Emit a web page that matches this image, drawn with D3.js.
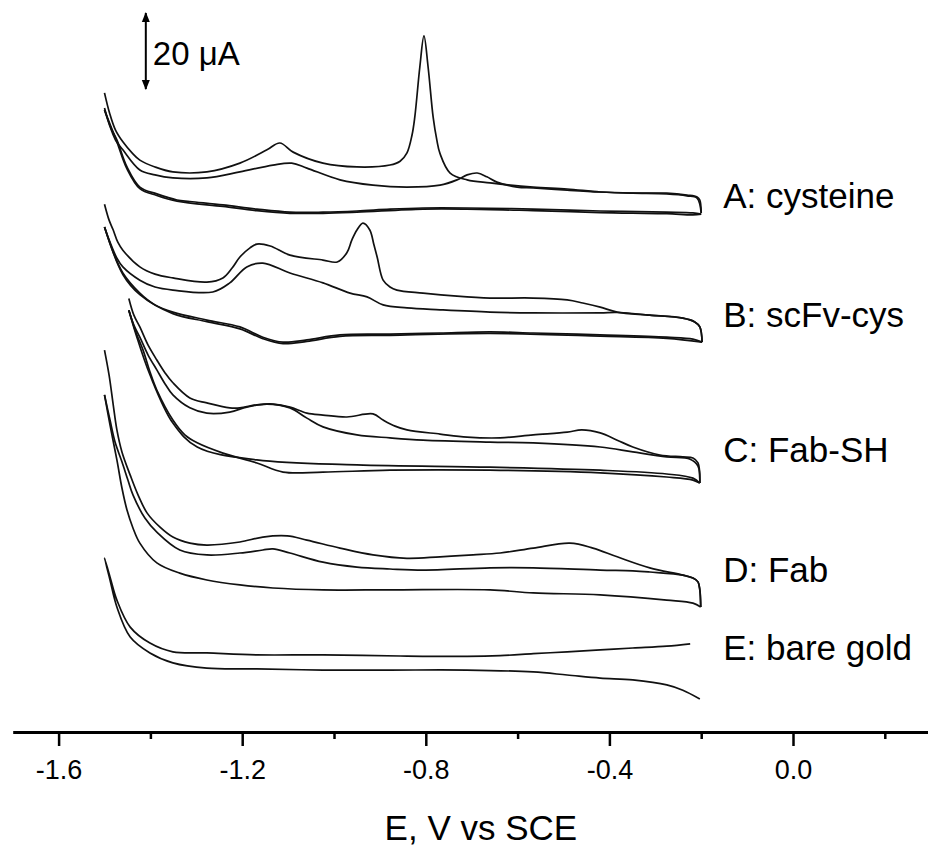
<!DOCTYPE html>
<html>
<head>
<meta charset="utf-8">
<script src="https://cdn.jsdelivr.net/npm/d3@7"></script>
<style>
  html, body { margin: 0; padding: 0; background: #fff; }
  svg { display: block; }
  text { font-family: "Liberation Sans", Arial, Helvetica, sans-serif; fill: #000; }
</style>
</head>
<body>
<svg id="chart" width="928" height="848"></svg>
<script>
// ---------------- data (E in V vs SCE, current in μA) ----------------
const majorTicks = [-1.6, -1.2, -0.8, -0.4, 0.0];
const minorTicks = [-1.4, -1.0, -0.6, -0.2, 0.2];
const xTitle = "E, V vs SCE";
const scaleBarLabel = "20 μA";
const scaleBarValue = 20; // μA
const sampleLabels = ["A: cysteine", "B: scFv-cys", "C: Fab-SH", "D: Fab", "E: bare gold"];
const sampleOffsets = [137, 104.5, 68.5, 37.5, 16.5]; // vertical stacking offsets, μA

const A_scan1 = [[-1.500,31.2],[-1.489,25.9],[-1.476,21.4],[-1.460,18.3],[-1.440,15.4],[-1.423,13.5],[-1.390,11.7],[-1.351,10.4],[-1.277,10.4],[-1.205,12.7],[-1.146,16.2],[-1.118,18.0],[-1.089,15.6],[-1.024,12.7],[-0.950,11.7],[-0.878,12.2],[-0.856,13.2],[-0.841,15.4],[-0.830,20.1],[-0.824,24.8],[-0.813,38.0],[-0.804,46.2],[-0.795,38.0],[-0.784,24.8],[-0.776,18.8],[-0.769,15.2],[-0.747,10.1],[-0.710,8.3],[-0.660,7.5],[-0.566,6.4],[-0.492,5.9],[-0.420,5.1],[-0.349,4.8],[-0.275,4.8],[-0.231,4.3],[-0.209,3.8],[-0.203,3.0],[-0.200,-0.4]];
const A_scan2 = [[-1.500,27.2],[-1.489,22.7],[-1.476,18.8],[-1.460,16.2],[-1.423,10.9],[-1.390,9.6],[-1.351,8.8],[-1.277,8.8],[-1.205,10.4],[-1.133,12.2],[-1.092,12.7],[-1.059,11.4],[-0.987,8.3],[-0.915,6.9],[-0.841,6.4],[-0.769,6.9],[-0.732,8.3],[-0.710,9.6],[-0.688,10.1],[-0.667,9.1],[-0.645,7.7],[-0.601,6.4],[-0.566,6.2],[-0.492,5.6],[-0.420,5.1],[-0.349,4.8],[-0.275,4.6],[-0.231,4.1],[-0.209,3.5],[-0.200,-0.4]];
const A_return1 = [[-1.500,26.7],[-1.486,22.0],[-1.473,18.8],[-1.451,11.7],[-1.423,6.4],[-1.386,4.6],[-1.342,3.0],[-1.314,2.6],[-1.242,1.7],[-1.168,0.6],[-1.096,-0.2],[-1.024,-0.2],[-0.950,0.1],[-0.878,0.6],[-0.806,0.9],[-0.710,0.9],[-0.566,0.6],[-0.420,0.1],[-0.275,-0.2],[-0.218,-0.4],[-0.200,-0.7]];
const A_return2 = [[-1.500,26.7],[-1.473,18.3],[-1.451,11.2],[-1.423,6.0],[-1.386,4.2],[-1.342,2.7],[-1.242,1.3],[-1.168,0.2],[-1.096,-0.5],[-1.024,-0.5],[-0.950,-0.2],[-0.806,0.6],[-0.710,0.6],[-0.566,0.2],[-0.420,-0.3],[-0.275,-0.6],[-0.218,-0.9],[-0.200,-0.7]];

const B_scan1 = [[-1.500,34.4],[-1.490,30.2],[-1.481,27.6],[-1.471,24.4],[-1.460,22.3],[-1.423,17.9],[-1.390,16.0],[-1.351,15.0],[-1.277,13.9],[-1.242,15.0],[-1.222,17.6],[-1.205,20.5],[-1.183,22.9],[-1.168,23.9],[-1.139,23.4],[-1.096,21.0],[-1.024,19.7],[-0.993,19.2],[-0.972,21.6],[-0.961,25.0],[-0.950,27.6],[-0.937,29.4],[-0.922,27.6],[-0.913,23.7],[-0.906,20.5],[-0.893,14.4],[-0.878,12.6],[-0.863,11.8],[-0.806,11.0],[-0.732,10.2],[-0.660,9.7],[-0.566,9.7],[-0.492,9.2],[-0.458,8.4],[-0.420,7.3],[-0.383,6.0],[-0.312,5.2],[-0.240,4.4],[-0.214,3.4],[-0.203,2.1],[-0.198,-1.9]];
const B_scan2 = [[-1.500,28.4],[-1.488,24.4],[-1.473,20.2],[-1.460,17.9],[-1.423,14.4],[-1.390,12.6],[-1.351,11.8],[-1.264,11.3],[-1.227,13.7],[-1.190,17.9],[-1.155,18.9],[-1.096,16.3],[-1.024,13.7],[-0.965,11.0],[-0.928,10.0],[-0.893,7.9],[-0.841,7.1],[-0.769,6.6],[-0.660,6.0],[-0.566,5.8],[-0.420,5.8],[-0.383,5.9],[-0.312,5.2],[-0.240,4.4],[-0.214,3.4],[-0.203,2.1],[-0.198,-1.9]];
const B_return1 = [[-1.500,28.4],[-1.481,21.8],[-1.460,16.3],[-1.423,11.0],[-1.390,7.9],[-1.351,6.0],[-1.277,3.9],[-1.205,2.1],[-1.155,-0.6],[-1.111,-1.9],[-1.059,-1.3],[-0.987,0.0],[-0.878,0.2],[-0.769,0.5],[-0.660,0.8],[-0.566,0.5],[-0.420,0.0],[-0.275,-0.6],[-0.218,-1.1],[-0.198,-1.9]];
const B_return2 = [[-1.500,28.4],[-1.460,15.9],[-1.423,10.6],[-1.351,5.6],[-1.277,3.5],[-1.205,1.6],[-1.155,-1.0],[-1.111,-2.3],[-1.059,-1.7],[-0.987,-0.4],[-0.878,-0.1],[-0.660,0.4],[-0.420,-0.3],[-0.275,-0.9],[-0.198,-1.9]];

const C_scan1 = [[-1.447,45.6],[-1.436,41.2],[-1.423,38.1],[-1.405,33.3],[-1.386,29.4],[-1.368,26.0],[-1.351,23.4],[-1.314,19.4],[-1.277,18.1],[-1.227,16.8],[-1.205,16.8],[-1.168,17.6],[-1.133,17.8],[-1.096,17.0],[-1.059,15.4],[-1.024,14.9],[-0.972,14.4],[-0.915,15.2],[-0.893,13.6],[-0.867,12.0],[-0.841,11.0],[-0.769,9.9],[-0.710,9.1],[-0.638,8.9],[-0.566,9.7],[-0.492,10.4],[-0.460,11.0],[-0.420,10.2],[-0.383,8.3],[-0.349,6.5],[-0.290,4.4],[-0.240,3.9],[-0.218,3.6],[-0.207,2.3],[-0.203,-3.0]];
const C_scan2 = [[-1.447,42.5],[-1.436,38.6],[-1.423,35.4],[-1.405,30.7],[-1.386,26.8],[-1.368,23.1],[-1.351,20.2],[-1.314,16.8],[-1.277,15.4],[-1.227,15.7],[-1.190,17.0],[-1.146,17.8],[-1.096,16.8],[-1.059,14.1],[-1.024,11.8],[-0.950,9.7],[-0.878,8.9],[-0.806,8.3],[-0.660,7.8],[-0.566,7.6],[-0.420,6.5],[-0.349,5.2],[-0.275,3.9],[-0.224,3.3],[-0.207,1.5],[-0.203,-3.0]];
const C_return1 = [[-1.447,42.5],[-1.431,36.5],[-1.416,32.0],[-1.401,26.3],[-1.386,21.5],[-1.351,13.6],[-1.325,9.7],[-1.298,7.6],[-1.242,4.9],[-1.168,2.3],[-1.111,-0.1],[-1.024,-0.1],[-0.878,0.4],[-0.660,0.4],[-0.420,-0.3],[-0.275,-1.4],[-0.218,-2.2],[-0.203,-3.0]];
const C_return2 = [[-1.447,42.5],[-1.431,36.0],[-1.401,25.5],[-1.351,12.8],[-1.298,6.5],[-1.168,3.1],[-0.950,1.8],[-0.660,1.2],[-0.420,0.4],[-0.275,-0.6],[-0.218,-1.7],[-0.203,-3.0]];

const D_scan1 = [[-1.500,63.0],[-1.490,56.4],[-1.481,48.6],[-1.473,42.0],[-1.462,36.2],[-1.444,30.1],[-1.427,24.9],[-1.407,20.1],[-1.379,16.4],[-1.351,13.8],[-1.314,12.2],[-1.277,11.7],[-1.205,12.5],[-1.155,13.8],[-1.102,14.1],[-1.059,13.0],[-0.987,10.9],[-0.915,9.1],[-0.841,8.2],[-0.769,8.6],[-0.697,9.1],[-0.638,9.6],[-0.566,10.9],[-0.486,12.2],[-0.436,10.9],[-0.383,8.6],[-0.312,5.7],[-0.240,3.8],[-0.218,3.0],[-0.207,2.0],[-0.203,-0.1],[-0.201,-4.6]];
const D_scan2 = [[-1.500,51.2],[-1.488,44.6],[-1.477,38.8],[-1.462,33.6],[-1.449,28.8],[-1.438,24.9],[-1.412,18.8],[-1.386,15.1],[-1.336,10.4],[-1.277,9.1],[-1.205,9.6],[-1.155,10.4],[-1.133,10.7],[-1.096,9.6],[-1.024,7.2],[-0.950,5.9],[-0.878,5.4],[-0.806,5.1],[-0.660,5.7],[-0.566,5.7],[-0.420,5.1],[-0.349,4.9],[-0.312,4.6],[-0.240,3.8],[-0.218,3.0],[-0.207,2.0],[-0.203,-0.1],[-0.201,-4.6]];
const D_return = [[-1.500,51.2],[-1.488,43.3],[-1.473,34.1],[-1.462,26.7],[-1.451,20.9],[-1.438,16.2],[-1.423,12.2],[-1.386,7.0],[-1.336,4.3],[-1.277,2.5],[-1.205,1.2],[-1.133,0.4],[-1.024,-0.1],[-0.878,-0.1],[-0.660,-0.1],[-0.566,-0.9],[-0.420,-1.4],[-0.275,-2.8],[-0.218,-3.6],[-0.201,-4.6]];

const E_trace = [[-0.224,6.7],[-0.275,6.1],[-0.349,5.6],[-0.420,5.1],[-0.492,4.6],[-0.566,4.1],[-0.638,3.6],[-0.710,3.4],[-0.856,3.5],[-1.024,3.8],[-1.168,3.8],[-1.277,4.3],[-1.351,4.6],[-1.401,6.9],[-1.444,11.1],[-1.473,18.2],[-1.488,24.3],[-1.500,29.3],[-1.488,23.5],[-1.473,16.4],[-1.444,8.5],[-1.401,4.3],[-1.351,1.7],[-1.277,0.3],[-1.168,0.1],[-1.024,-0.2],[-0.878,-0.2],[-0.710,-0.2],[-0.566,-0.7],[-0.492,-1.5],[-0.420,-2.3],[-0.349,-2.8],[-0.275,-4.1],[-0.240,-5.5],[-0.203,-7.8]];

const sampleBranches = [
  [A_scan1, A_scan2, A_return1, A_return2],
  [B_scan1, B_scan2, B_return1, B_return2],
  [C_scan1, C_scan2, C_return1, C_return2],
  [D_scan1, D_scan2, D_return],
  [E_trace]
];

// ---------------- drawing ----------------
const svg = d3.select("#chart");
const axisY = 732;
const x = d3.scaleLinear().domain([-1.7, 0.3]).range([12.7, 930.7]);
const y = d3.scaleLinear().domain([0, 190]).range([axisY, 10]);

const line = d3.line()
  .x(d => x(d[0]))
  .curve(d3.curveCatmullRom.alpha(0.5));

sampleBranches.forEach((branches, i) => {
  const off = sampleOffsets[i];
  const g = svg.append("g");
  branches.forEach(b => {
    g.append("path")
      .attr("d", line.y(d => y(off + d[1]))(b))
      .attr("fill", "none")
      .attr("stroke", "#111")
      .attr("stroke-width", 1.7)
      .attr("stroke-linejoin", "round");
  });
});

// sample labels
const labelE = -0.152;
const labelShift = [-3, -8, -10, -8, -9];
sampleLabels.forEach((t, i) => {
  svg.append("text")
    .attr("x", x(labelE))
    .attr("y", y(sampleOffsets[i]) + labelShift[i])
    .attr("font-size", 35)
    .text(t);
});

// x axis (major)
const gx = svg.append("g")
  .attr("transform", `translate(0,${axisY})`)
  .call(d3.axisBottom(x)
    .tickValues(majorTicks)
    .tickFormat(d => d.toFixed(1))
    .tickSize(14)
    .tickSizeOuter(0)
    .tickPadding(14));
gx.select(".domain").attr("stroke", "#000").attr("stroke-width", 3);
gx.selectAll(".tick line").attr("stroke", "#000").attr("stroke-width", 2.5);
gx.selectAll(".tick text")
  .attr("font-size", 27)
  .attr("font-family", "'Liberation Sans', Arial, sans-serif")
  .attr("fill", "#000");

// minor ticks
const gm = svg.append("g")
  .attr("transform", `translate(0,${axisY})`)
  .call(d3.axisBottom(x).tickValues(minorTicks).tickSize(7).tickFormat(""));
gm.select(".domain").remove();
gm.selectAll(".tick line").attr("stroke", "#000").attr("stroke-width", 2.5);

// axis title
svg.append("text")
  .attr("x", x(-0.68))
  .attr("y", 840)
  .attr("text-anchor", "middle")
  .attr("font-size", 35)
  .text(xTitle);

// scale bar (double arrow)
const barBottom = 169.2;
const barX = x(-1.41);
const defs = svg.append("defs");
defs.append("marker")
  .attr("id", "arr")
  .attr("viewBox", "0 0 10 10")
  .attr("refX", 9).attr("refY", 5)
  .attr("markerWidth", 10).attr("markerHeight", 10)
  .attr("markerUnits", "userSpaceOnUse")
  .attr("orient", "auto-start-reverse")
  .append("path")
  .attr("d", "M0,1 L10,5 L0,9 Z")
  .attr("fill", "#000");
svg.append("line")
  .attr("x1", barX).attr("x2", barX)
  .attr("y1", y(barBottom)).attr("y2", y(barBottom + scaleBarValue))
  .attr("stroke", "#000")
  .attr("stroke-width", 2)
  .attr("marker-start", "url(#arr)")
  .attr("marker-end", "url(#arr)");
svg.append("text")
  .attr("x", barX + 7)
  .attr("y", 65)
  .attr("font-size", 33)
  .text(scaleBarLabel);
</script>
</body>
</html>
